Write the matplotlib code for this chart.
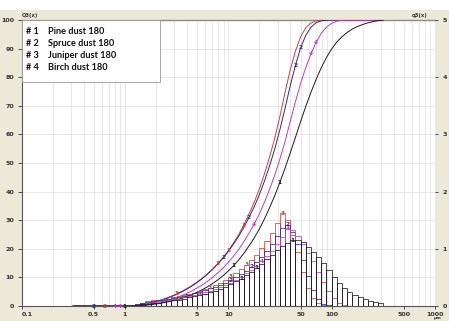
import matplotlib
matplotlib.use("Agg")
import matplotlib.pyplot as plt
import numpy as np
from matplotlib.patches import Rectangle
from matplotlib.ticker import FixedLocator, NullFormatter, LogLocator

# ---------------- data ----------------
bin_edges = [0.316, 0.355, 0.398, 0.447, 0.501, 0.562, 0.631, 0.708, 0.794, 0.891,
             1.00, 1.12, 1.26, 1.41, 1.58, 1.78, 2.00, 2.24, 2.51, 2.82,
             3.16, 3.55, 3.98, 4.47, 5.01, 5.62, 6.31, 7.08, 7.94, 8.91,
             10.0, 11.2, 12.6, 14.1, 15.8, 17.8, 20.0, 22.4, 25.1, 28.2,
             31.6, 35.5, 39.8, 44.7, 50.1, 56.2, 63.1, 70.8, 79.4, 89.1,
             100, 112, 126, 141, 158, 178, 200, 224, 251, 282, 316]

zeros_fine = [0.0] * 11

q3_pine = zeros_fine + [
    0.01, 0.02, 0.03, 0.04, 0.05, 0.06, 0.07, 0.08, 0.10,
    0.11, 0.13, 0.15, 0.17, 0.19, 0.21, 0.24, 0.27, 0.30, 0.34,
    0.38, 0.43, 0.48, 0.54, 0.60, 0.67, 0.74, 0.82, 0.90, 0.98,
    1.05, 1.11, 1.15, 1.15, 1.12, 1.04, 0.95, 0.86, 0.75, 0.63,
    0.50, 0.40, 0.31, 0.25, 0.19, 0.15, 0.12, 0.09, 0.07, 0.05]

q3_spruce = zeros_fine + [
    0.02, 0.03, 0.05, 0.07, 0.09, 0.10, 0.11, 0.12, 0.14,
    0.16, 0.18, 0.20, 0.22, 0.25, 0.28, 0.31, 0.34, 0.37, 0.41,
    0.45, 0.50, 0.56, 0.62, 0.69, 0.77, 0.86, 0.96, 1.08, 1.22,
    1.36, 1.42, 1.30, 1.08, 0.80, 0.52, 0.28, 0.12, 0.04, 0.01,
    0, 0, 0, 0, 0, 0, 0, 0, 0, 0]

q3_juniper = zeros_fine + [
    0.02, 0.04, 0.06, 0.08, 0.10, 0.11, 0.12, 0.13, 0.15,
    0.17, 0.19, 0.21, 0.23, 0.26, 0.29, 0.32, 0.36, 0.40, 0.45,
    0.51, 0.57, 0.64, 0.72, 0.80, 0.90, 1.01, 1.13, 1.27, 1.45,
    1.62, 1.50, 1.25, 0.95, 0.60, 0.32, 0.14, 0.05, 0.01, 0,
    0, 0, 0, 0, 0, 0, 0, 0, 0, 0]

q3_birch = zeros_fine + [
    0.01, 0.02, 0.04, 0.05, 0.07, 0.08, 0.09, 0.10, 0.12,
    0.13, 0.15, 0.17, 0.19, 0.21, 0.24, 0.27, 0.30, 0.33, 0.37,
    0.41, 0.46, 0.51, 0.57, 0.63, 0.70, 0.78, 0.87, 0.97, 1.08,
    1.20, 1.35, 1.32, 1.22, 1.08, 0.92, 0.78, 0.60, 0.42, 0.26,
    0.14, 0.06, 0.02, 0, 0, 0, 0, 0, 0, 0]

series_ids = ["1", "2", "3", "4"]
series_names = ["Pine dust 180", "Spruce dust 180", "Juniper dust 180", "Birch dust 180"]
series_q3 = [q3_pine, q3_spruce, q3_juniper, q3_birch]
series_colors = ["#1c1c1c", "#2c2c90", "#c8443c", "#c43cc4"]

# indices (into bin_edges / bins) where the small series digits are written
curve_marks = [[10, 22, 31, 40], [4, 29, 34, 43, 44], [6, 20, 28, 30, 33], [8, 9, 35, 46, 47]]
hist_marks = [[32, 35, 42], [30, 34, 41], [26, 30, 33, 40], [24, 36, 41]]

xtick_vals = [0.1, 0.5, 1, 5, 10, 50, 100, 500, 1000]
xtick_labels = ["0.1", "0.5", "1", "5", "10", "50", "100", "500", "1000"]
ytick_left = [0, 10, 20, 30, 40, 50, 60, 70, 80, 90, 100]
ytick_right = [0, 1, 2, 3, 4, 5]

# ---------------- figure ----------------
W, H = 449, 321
fig = plt.figure(figsize=(W / 100, H / 100), dpi=100, facecolor="#ECE9D8")
fig.patches.append(Rectangle((0, 1 - 10 / H), 1, 10 / H, transform=fig.transFigure,
                             facecolor="white", edgecolor="none"))

x0, x1, ytop, ybot = 21.5, 435.0, 20.0, 306.0
ax = fig.add_axes([x0 / W, (H - ybot) / H, (x1 - x0) / W, (ybot - ytop) / H])
ax.set_facecolor("white")
ax.set_xscale("log")
ax.set_xlim(0.1, 1000)
ax.set_ylim(0, 100)

ax.xaxis.set_major_locator(FixedLocator(xtick_vals))
ax.set_xticklabels(xtick_labels)
ax.xaxis.set_minor_locator(LogLocator(base=10, subs=np.arange(1, 10)))
ax.xaxis.set_minor_formatter(NullFormatter())
ax.set_yticks(ytick_left)
ax.set_yticklabels([str(v) for v in ytick_left])

gridkw = dict(color="#c9c9c9", linewidth=0.6, linestyle=(0, (1.2, 1.2)))
ax.grid(True, which="both", axis="x", **gridkw)
ax.grid(True, which="major", axis="y", **gridkw)
ax.set_axisbelow(True)

ax.tick_params(axis="both", which="major", labelsize=4.6, colors="#333333",
               length=3, width=0.6, direction="out", pad=2)
ax.tick_params(axis="x", which="major", length=2, pad=2.5)
ax.tick_params(axis="x", which="minor", length=0)
for lab in ax.get_xticklabels() + ax.get_yticklabels():
    lab.set_fontweight("bold")
ax.get_xticklabels()[0].set_horizontalalignment("left")

for side in ["left", "bottom"]:
    ax.spines[side].set_color("#555555")
    ax.spines[side].set_linewidth(0.8)
ax.spines["top"].set_color("#8a8a8a")
ax.spines["top"].set_linewidth(1.0)
ax.spines["right"].set_visible(False)

ax2 = ax.twinx()
ax2.set_ylim(0, 5)
ax2.set_yticks(ytick_right)
ax2.set_yticklabels([str(v) for v in ytick_right])
ax2.tick_params(axis="y", labelsize=4.6, colors="#333333", length=2.5, width=0.6,
                direction="out", pad=3)
for lab in ax2.get_yticklabels():
    lab.set_fontweight("bold")
for s in ax2.spines.values():
    s.set_visible(False)

edges = np.array(bin_edges)
lefts = edges[:-1]
widths = np.diff(edges)
centers = np.sqrt(edges[:-1] * edges[1:])

# histograms: draw coloured first, black last
order = [2, 1, 3, 0]
for i in order:
    q = np.array(series_q3[i])
    ax2.bar(lefts, q, width=widths, align="edge", fill=False,
            edgecolor=series_colors[i], linewidth=0.55, zorder=2 + (i == 0))

# cumulative curves
for i in order:
    q = np.array(series_q3[i])
    Q = np.concatenate([[0.0], np.cumsum(q)])
    Q = Q / Q[-1] * 100
    ax.plot(edges, Q, color=series_colors[i], linewidth=0.7, zorder=3)
    for j in curve_marks[i]:
        ax.text(edges[j], Q[j], series_ids[i], color=series_colors[i], fontsize=4.2,
                fontweight="bold", ha="center", va="center", zorder=5)
    for j in hist_marks[i]:
        ax2.text(centers[j], q[j], series_ids[i], color=series_colors[i], fontsize=4.2,
                 fontweight="bold", ha="center", va="center", zorder=5)

# legend box
lx1 = (160 - x0) / (x1 - x0)
ly0 = (ybot - 82) / (ybot - ytop)
ax.add_patch(Rectangle((0, ly0), lx1, 1 - ly0, transform=ax.transAxes,
                       facecolor="white", edgecolor="#9a9a9a", linewidth=0.6, zorder=6))
for r, (sid, name) in enumerate(zip(series_ids, series_names)):
    ypx = 31.5 + r * 12.1
    ya = (ybot - ypx) / (ybot - ytop)
    ax.text((26 - x0) / (x1 - x0), ya, "# " + sid, transform=ax.transAxes,
            fontsize=6.6, fontweight="bold", family="Lato", color="#111111",
            va="center", ha="left", zorder=7)
    ax.text((48 - x0) / (x1 - x0), ya, name, transform=ax.transAxes,
            fontsize=6.6, fontweight="bold", family="Lato", color="#111111",
            va="center", ha="left", zorder=7)

# small axis captions
fig.text(22 / W, 1 - 15 / H, "Q3(x)", fontsize=3.8, color="#333333", fontweight="bold",
         ha="left", va="center")
fig.text(428 / W, 1 - 15 / H, "q3(x)", fontsize=3.8, color="#333333", fontweight="bold",
         ha="right", va="center")
fig.text(437 / W, 1 - 318.5 / H, "µm", fontsize=3.2, color="#333333", fontweight="bold",
         ha="center", va="center")

fig.savefig("out.png", dpi=100, facecolor=fig.get_facecolor())
